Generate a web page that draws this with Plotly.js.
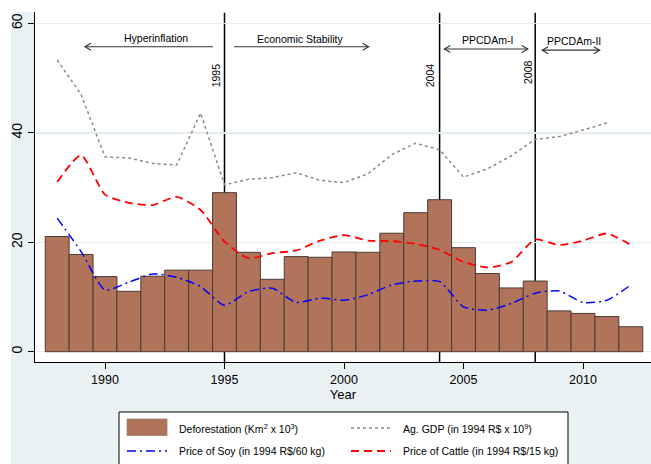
<!DOCTYPE html>
<html><head><meta charset="utf-8">
<script src="https://cdn.plot.ly/plotly-3.0.1.min.js"></script>
<style>html,body{margin:0;padding:0;background:#fff;}#chart{width:651px;height:464px;}</style>
</head><body><div id="chart"></div>
<script>
// ---- data ----
const years = [1988,1989,1990,1991,1992,1993,1994,1995,1996,1997,1998,1999,2000,2001,2002,2003,2004,2005,2006,2007,2008,2009,2010,2011,2012];
const deforestation = [21.05,17.77,13.73,11.03,13.79,14.90,14.90,29.06,18.16,13.23,17.38,17.26,18.23,18.17,21.65,25.40,27.77,19.01,14.29,11.65,12.91,7.46,7.00,6.42,4.57];
const gdpYears = [1988,1989,1990,1991,1992,1993,1994,1995,1996,1997,1998,1999,2000,2001,2002,2003,2004,2005,2006,2007,2008,2009,2010,2011];
const agGDP = [53.3,47.0,35.6,35.4,34.4,34.1,43.6,30.5,31.5,31.8,32.7,31.3,30.9,32.5,36.0,38.1,36.9,31.9,33.4,35.8,38.8,39.3,40.5,41.8];
const soyPrice = [24.4,18.3,11.3,12.7,14.2,13.6,11.9,8.5,11.0,11.6,9.0,9.8,9.4,10.4,12.2,12.9,12.8,8.2,7.6,8.8,10.7,11.1,9.0,9.4,12.2];
const cattlePrice = [31.0,35.9,28.7,27.2,26.8,28.3,25.9,20.1,17.1,18.0,18.5,20.3,21.3,20.3,20.2,19.7,18.6,16.4,15.4,16.4,20.5,19.5,20.3,21.6,19.5];
const xTicks = [1990,1995,2000,2005,2010];
const yTicks = [0,20,40,60];
const policyYears = [1995,2004,2008];
const periodLabels = ['Hyperinflation','Economic Stability','PPCDAm-I','PPCDAm-II'];
const legendLabels = ['Deforestation (Km<sup>2</sup> x 10<sup>3</sup>)','Ag. GDP (in 1994 R$ x 10<sup>9</sup>)','Price of Soy (in 1994 R$/60 kg)','Price of Cattle (in 1994 R$/15 kg)'];

// ---- styles ----
const W = 651, H = 464;
const M = {l:35, r:0, t:12, b:102};
const PW = W - M.l - M.r, PH = H - M.t - M.b;
const px = x => (x - M.l) / PW;
const py = y => (H - M.b - y) / PH;
const FONT = 'Arial, "Liberation Sans", sans-serif';
const BAR = '#b1745a', BAR_LINE = '#4b3b33';
const REGION = '#eaf1f3', GRID = '#e4eef0';
const XR = [1987.071, 2012.845], YR = [-1.88, 62.07];
const dxU = 6 * (XR[1]-XR[0]) / PW;   // arrowhead length in x units (6px)
const dyU = 3.5 * (YR[1]-YR[0]) / PH; // arrowhead half-height in y units (3.5px)

const traces = [
  {type:'bar', x:years, y:deforestation, width:1, marker:{color:BAR, line:{color:BAR_LINE, width:1}}, showlegend:false, hoverinfo:'x+y'},
  {type:'scatter', mode:'lines', x:gdpYears, y:agGDP, line:{color:'#8a8a8a', width:1.5, dash:'3px,3px'}, showlegend:false},
  {type:'scatter', mode:'lines', x:years, y:soyPrice, line:{color:'#0000ff', width:1.5, dash:'9px,4px,2px,4px', shape:'spline', smoothing:0.6}, showlegend:false},
  {type:'scatter', mode:'lines', x:years, y:cattlePrice, line:{color:'#ff0000', width:1.8, dash:'8px,5px', shape:'spline', smoothing:0.6}, showlegend:false}
];

const shapes = [
  // graph region (light bluish) outside plot
  {type:'rect', xref:'paper', yref:'paper', x0:px(11), x1:px(35), y0:py(464), y1:py(12), fillcolor:REGION, line:{width:0}, layer:'below'},
  {type:'rect', xref:'paper', yref:'paper', x0:px(11), x1:px(651), y0:py(464), y1:py(362), fillcolor:REGION, line:{width:0}, layer:'below'},
  // legend box
  {type:'rect', xref:'paper', yref:'paper', x0:px(119), x1:px(568), y0:py(470), y1:py(412), fillcolor:'#ffffff', line:{color:'#000', width:1}, layer:'below'},
  {type:'rect', xref:'paper', yref:'paper', x0:px(127), x1:px(167), y0:py(435.5), y1:py(419), fillcolor:BAR, line:{color:'#a08272', width:0.8}, layer:'below'},
  {type:'line', xref:'paper', yref:'paper', x0:px(351), x1:px(391), y0:py(428), y1:py(428), line:{color:'#8a8a8a', width:1.5, dash:'3px,3px'}, layer:'below'},
  {type:'line', xref:'paper', yref:'paper', x0:px(127), x1:px(167), y0:py(451), y1:py(451), line:{color:'#0000ff', width:1.5, dash:'9px,4px,2px,4px'}, layer:'below'},
  {type:'line', xref:'paper', yref:'paper', x0:px(351), x1:px(391), y0:py(451), y1:py(451), line:{color:'#ff0000', width:1.8, dash:'8px,5px'}, layer:'below'}
];
policyYears.forEach(yr => shapes.push({type:'line', xref:'x', yref:'paper', x0:yr, x1:yr, y0:0, y1:0.998, line:{color:'#000', width:1.5}, layer:'below'}));

// period arrows: [x start, x end, y, head at start?, head at end?]
const arrows = [
  [1989.16, 1994.52, 55.73, true, false],
  [1995.40, 2001.03, 55.73, false, true],
  [2004.20, 2007.69, 55.3, true, true],
  [2008.29, 2010.70, 55.1, true, true]
];
const ARROW_LINE = {color:'#333', width:1.1};
arrows.forEach(([a, b, y, hs, he]) => {
  shapes.push({type:'line', xref:'x', yref:'y', x0:a, x1:b, y0:y, y1:y, line:ARROW_LINE});
  if (hs) shapes.push({type:'path', xref:'x', yref:'y', path:`M${a+dxU},${y+dyU} L${a},${y} L${a+dxU},${y-dyU}`, line:ARROW_LINE});
  if (he) shapes.push({type:'path', xref:'x', yref:'y', path:`M${b-dxU},${y+dyU} L${b},${y} L${b-dxU},${y-dyU}`, line:ARROW_LINE});
});

const annFont = {family:FONT, size:10.5, color:'#000'};
const annotations = [
  {x:1992.12, y:57.26, text:periodLabels[0], showarrow:false, font:annFont},
  {x:1998.19, y:57.08, text:periodLabels[1], showarrow:false, font:annFont},
  {x:2006.0, y:56.95, text:periodLabels[2], showarrow:false, font:annFont},
  {x:2009.61, y:56.82, text:periodLabels[3], showarrow:false, font:annFont},
  // policy year labels
  {x:1994.66, y:50.56, text:String(policyYears[0]), textangle:-90, showarrow:false, font:annFont},
  {x:2003.61, y:50.56, text:String(policyYears[1]), textangle:-90, showarrow:false, font:annFont},
  {x:2007.69, y:51.07, text:String(policyYears[2]), textangle:-90, showarrow:false, font:annFont},
  // legend labels
  {xref:'paper', yref:'paper', x:px(177), y:py(428), xanchor:'left', yanchor:'middle', text:legendLabels[0], showarrow:false, font:annFont},
  {xref:'paper', yref:'paper', x:px(401), y:py(428), xanchor:'left', yanchor:'middle', text:legendLabels[1], showarrow:false, font:annFont},
  {xref:'paper', yref:'paper', x:px(177), y:py(451), xanchor:'left', yanchor:'middle', text:legendLabels[2], showarrow:false, font:annFont},
  {xref:'paper', yref:'paper', x:px(401), y:py(451), xanchor:'left', yanchor:'middle', text:legendLabels[3], showarrow:false, font:annFont}
];

const layout = {
  width:W, height:H, margin:M,
  paper_bgcolor:'#ffffff', plot_bgcolor:'#ffffff',
  font:{family:FONT, color:'#000'},
  showlegend:false, bargap:0,
  xaxis:{range:XR, tickvals:xTicks, ticks:'outside', ticklen:6, tickcolor:'#000', showgrid:false, zeroline:false,
         showline:true, linecolor:'#000', linewidth:1.2, tickfont:{size:12.5}, title:{text:'Year', font:{size:13}, standoff:2}},
  yaxis:{range:YR, tickvals:yTicks, ticks:'outside', ticklen:6, tickcolor:'#000', tickangle:-90, showgrid:true, gridcolor:GRID, gridwidth:1.5,
         zeroline:false, showline:true, linecolor:'#000', linewidth:1.2, tickfont:{size:14}},
  shapes:shapes, annotations:annotations
};
Plotly.newPlot('chart', traces, layout, {displayModeBar:false, staticPlot:true});
</script></body></html>
